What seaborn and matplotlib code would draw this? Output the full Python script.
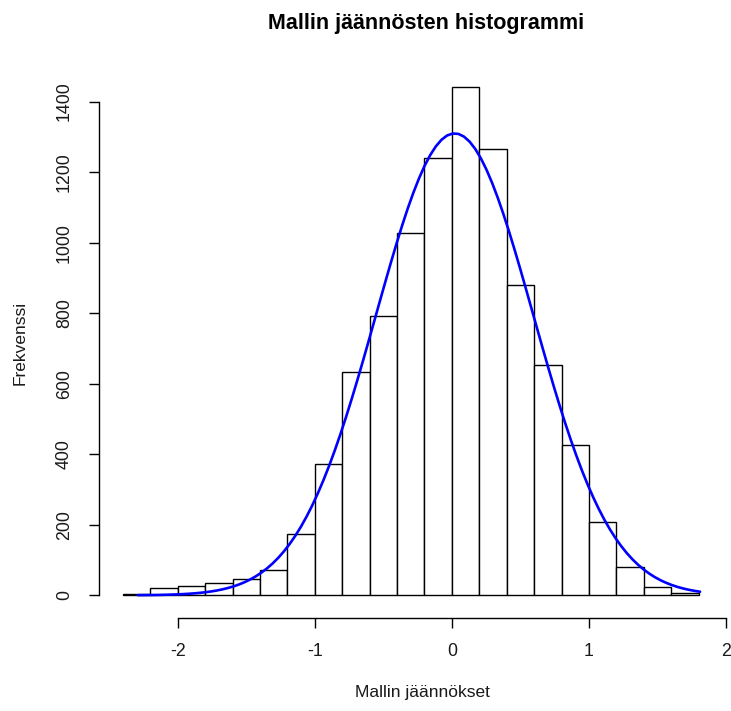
import numpy as np
import pandas as pd
import matplotlib
matplotlib.use("Agg")
import matplotlib.pyplot as plt
import seaborn as sns

# Residual histogram: bin edges (width 0.2) and counts per bin
bin_edges = [-2.4, -2.2, -2.0, -1.8, -1.6, -1.4, -1.2, -1.0, -0.8, -0.6, -0.4,
             -0.2, 0.0, 0.2, 0.4, 0.6, 0.8, 1.0, 1.2, 1.4, 1.6, 1.8]
counts = [3, 20, 26, 34, 46, 73, 173, 372, 632, 793, 1028,
          1239, 1440, 1265, 880, 653, 427, 207, 80, 24, 7]

# Fitted normal curve parameters (scaled to counts)
fit_mean = 0.02
fit_sd = 0.574
resid_min, resid_max = -2.29, 1.81

x_ticks = [-2, -1, 0, 1, 2]
y_ticks = [0, 200, 400, 600, 800, 1000, 1200, 1400]

title = "Mallin jäännösten histogrammi"
x_label = "Mallin jäännökset"
y_label = "Frekvenssi"

sns.set_theme(style="white")
plt.rcParams["font.family"] = ["Liberation Sans", "DejaVu Sans"]

W, H = 731, 711
fig = plt.figure(figsize=(W / 100, H / 100), dpi=100)

def px_box(left, right, top, bottom):
    return [left / W, 1 - bottom / H, (right - left) / W, (bottom - top) / H]

ax = fig.add_axes(px_box(98.7, 726.8, 65.2, 617.7))

edges = np.array(bin_edges)
mids = (edges[:-1] + edges[1:]) / 2
df = pd.DataFrame({"resid": mids, "n": counts})

sns.histplot(data=df, x="resid", weights="n", bins=list(bin_edges), stat="count",
             color="white", edgecolor="black", linewidth=1.0, alpha=1.0, ax=ax)

# Normal density scaled by total count and bin width
binw = edges[1] - edges[0]
total = float(np.sum(counts))
xs = np.linspace(resid_min, resid_max, 101)
ys = total * binw * np.exp(-0.5 * ((xs - fit_mean) / fit_sd) ** 2) / (fit_sd * np.sqrt(2 * np.pi))
curve = pd.DataFrame({"x": xs, "y": ys})
sns.lineplot(data=curve, x="x", y="y", color="#0000FF", linewidth=1.9, ax=ax, sort=False)

ax.set_xlim(-2.576, 2.005)
ax.set_ylim(-63.5, 1503)
ax.set_xticks(x_ticks)
ax.set_yticks(y_ticks)
ax.set_xticklabels([str(v) for v in x_ticks])
ax.set_yticklabels([str(v) for v in y_ticks], rotation=90, va="center")
ax.set_xlabel("")
ax.set_ylabel("")

for side in ("top", "right"):
    ax.spines[side].set_visible(False)
ax.spines["bottom"].set_bounds(-2, 2)
ax.spines["left"].set_bounds(0, 1400)
for side in ("bottom", "left"):
    ax.spines[side].set_color("black")
    ax.spines[side].set_linewidth(1.0)

ax.tick_params(axis="both", which="major", direction="out", length=7.5, width=1.0,
               color="black", labelsize=12.8, labelcolor="#1a1a1a",
               bottom=True, left=True)
ax.tick_params(axis="x", pad=11)
ax.tick_params(axis="y", pad=11)
ax.grid(False)

fig.text(426 / W, 1 - 23 / H, title, ha="center", va="center",
         fontsize=15.5, fontweight="bold", color="black")
fig.text(422 / W, 1 - 693 / H, x_label, ha="center", va="center",
         fontsize=12.5, color="#1a1a1a")
fig.text(20 / W, 1 - 343 / H, y_label, ha="center", va="center",
         rotation=90, fontsize=12.5, color="#1a1a1a")

fig.savefig("out.png", dpi=100, facecolor="white")
